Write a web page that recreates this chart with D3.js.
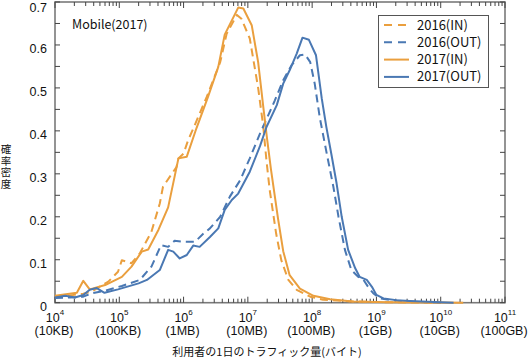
<!DOCTYPE html>
<html><head><meta charset="utf-8">
<script src="https://cdn.jsdelivr.net/npm/d3@7"></script>
<style>
html,body{margin:0;padding:0;background:#fff;}
svg text{font-family:"Noto Sans CJK JP","Noto Sans",sans-serif;fill:#111;}
svg text.num{font-family:"Liberation Sans","Noto Sans",sans-serif;}
svg text.vert{writing-mode:vertical-rl;text-orientation:upright;letter-spacing:1px;}
</style></head>
<body>
<svg id="c" width="530" height="360"></svg>
<script>
// exponents (log10 of bytes) and density values
const in2016X = [4.0,4.23,4.44,4.57,4.83,4.98,5.04,5.19,5.32,5.50,5.63,5.68,5.89,5.92,6.0,6.07,6.15,6.36,6.57,6.67,6.83,6.90,7.03,7.16,7.24,7.29,7.34,7.44,7.52,7.63,7.76,7.97,8.17,8.6,9.2,10.0];
const in2016Y = [0.014,0.017,0.021,0.026,0.049,0.072,0.099,0.092,0.115,0.165,0.231,0.270,0.316,0.336,0.347,0.378,0.405,0.479,0.560,0.626,0.670,0.661,0.615,0.500,0.41,0.33,0.262,0.161,0.099,0.053,0.030,0.014,0.007,0.003,0.001,0];

const out2016X = [4.0,4.23,4.44,4.57,4.78,5.04,5.32,5.50,5.65,5.76,5.86,5.97,6.18,6.31,6.41,6.57,6.72,6.88,7.03,7.19,7.34,7.42,7.55,7.68,7.81,7.89,7.97,8.04,8.12,8.23,8.33,8.41,8.51,8.61,8.72,8.80,8.87,8.95,9.05,9.26,9.6,10.0];
const out2016Y = [0.011,0.012,0.014,0.022,0.028,0.039,0.053,0.084,0.134,0.130,0.144,0.142,0.142,0.161,0.173,0.200,0.247,0.285,0.336,0.394,0.444,0.471,0.518,0.553,0.576,0.578,0.560,0.510,0.430,0.345,0.270,0.200,0.123,0.076,0.060,0.053,0.037,0.022,0.010,0.005,0.002,0];

const in2017X = [4.0,4.34,4.44,4.54,4.78,5.04,5.19,5.35,5.45,5.61,5.76,5.92,6.05,6.20,6.38,6.54,6.64,6.85,6.93,7.06,7.16,7.24,7.30,7.36,7.47,7.55,7.65,7.81,8.02,8.28,8.63,9.2,10.35];
const in2017Y = [0.016,0.023,0.051,0.031,0.041,0.060,0.084,0.119,0.124,0.170,0.222,0.336,0.340,0.406,0.479,0.549,0.624,0.687,0.685,0.646,0.560,0.456,0.38,0.31,0.195,0.12,0.064,0.033,0.016,0.008,0.003,0.001,0];

const out2017X = [4.0,4.16,4.31,4.44,4.54,4.65,4.77,4.98,5.30,5.43,5.63,5.76,5.84,5.94,6.05,6.15,6.25,6.41,6.54,6.64,6.75,6.85,7.03,7.19,7.29,7.45,7.55,7.65,7.76,7.85,7.95,8.06,8.15,8.22,8.30,8.38,8.46,8.56,8.67,8.74,8.85,8.93,9.00,9.11,9.31,9.52,9.8,10.2];
const out2017Y = [0.012,0.016,0.012,0.018,0.030,0.034,0.023,0.031,0.045,0.053,0.076,0.123,0.119,0.103,0.111,0.133,0.130,0.153,0.173,0.216,0.239,0.254,0.305,0.365,0.409,0.46,0.51,0.541,0.58,0.617,0.612,0.576,0.475,0.41,0.345,0.278,0.2,0.123,0.08,0.06,0.053,0.037,0.018,0.010,0.006,0.004,0.002,0];

const seriesNames = ["2016(IN)","2016(OUT)","2017(IN)","2017(OUT)"];
const xExponents = [4,5,6,7,8,9,10,11];
const xUnitLabels = ["(10KB)","(100KB)","(1MB)","(10MB)","(100MB)","(1GB)","(10GB)","(100GB)"];
const yTickLabels = [0,0.1,0.2,0.3,0.4,0.5,0.6,0.7];
const title = "Mobile(2017)";
const xTitle = "利用者の1日のトラフィック量(バイト)";
const yTitle = "確率密度";

const ORANGE = "#EA9F3E", BLUE = "#4A78B3", AXIS = "#7a7a7a";
const L=55, R=505, T=2, B=302.7;
const svg = d3.select("#c");
const x = d3.scaleLog().domain([1e4,1e11]).range([L,R]);
const y = d3.scaleLinear().domain([0,0.7]).range([B,T]);

// frame
svg.append("rect").attr("x",L).attr("y",T).attr("width",R-L).attr("height",B-T)
  .attr("fill","none").attr("stroke",AXIS).attr("stroke-width",1.6);

// x ticks (major + minor) top and bottom, inward
const g = svg.append("g").attr("stroke","#444").attr("stroke-width",1);
xExponents.forEach((e,i)=>{
  const base = Math.pow(10,e);
  const vx = x(base);
  g.append("line").attr("x1",vx).attr("x2",vx).attr("y1",B).attr("y2",B-6);
  g.append("line").attr("x1",vx).attr("x2",vx).attr("y1",T).attr("y2",T+6);
  if (i < xExponents.length-1) {
    for (let m=2;m<=9;m++){
      const mx = x(base*m);
      g.append("line").attr("x1",mx).attr("x2",mx).attr("y1",B).attr("y2",B-4);
      g.append("line").attr("x1",mx).attr("x2",mx).attr("y1",T).attr("y2",T+4);
    }
  }
});
// y ticks every 0.05 both sides
d3.range(0,0.7001,0.05).forEach(v=>{
  const vy=y(v);
  g.append("line").attr("x1",L).attr("x2",L+5).attr("y1",vy).attr("y2",vy);
  g.append("line").attr("x1",R).attr("x2",R-5).attr("y1",vy).attr("y2",vy);
});

// y tick labels
yTickLabels.forEach(v=>{
  svg.append("text").attr("class","num").attr("x",47).attr("y",Math.max(y(v)+8.5,12)).attr("text-anchor","end")
    .attr("font-size",12.5).text(v===0?"0":d3.format(".1f")(v));
});
// x tick labels: one text element per tick, two lines
xExponents.forEach((e,i)=>{
  const vx = x(Math.pow(10,e));
  const t = svg.append("text").attr("class","num").attr("x",vx).attr("y",321.5).attr("text-anchor","middle").attr("font-size",12.5);
  t.append("tspan").text("10");
  t.append("tspan").attr("dy",-7).attr("font-size",8).text(e);
  t.append("tspan").attr("x",vx-1).attr("dy",20).text(xUnitLabels[i]);
});

// axis titles
svg.append("text").attr("x",267).attr("y",356).attr("text-anchor","middle").attr("font-size",11).text(xTitle);
svg.append("text").attr("class","vert").attr("x",6).attr("y",144).attr("font-size",10.5).text(yTitle);
svg.append("text").attr("x",72).attr("y",29).attr("font-size",12.5).text(title);

// curves
const line = d3.line().x(d=>x(Math.pow(10,d[0]))).y(d=>y(d[1]));
const series = [
  {name:seriesNames[0], xs:in2016X, ys:in2016Y, color:ORANGE, dash:"8,5"},
  {name:seriesNames[1], xs:out2016X, ys:out2016Y, color:BLUE, dash:"8,5"},
  {name:seriesNames[2], xs:in2017X, ys:in2017Y, color:ORANGE, dash:null},
  {name:seriesNames[3], xs:out2017X, ys:out2017Y, color:BLUE, dash:null}
];
series.forEach(s=>{
  svg.append("path").datum(s.xs.map((v,i)=>[v,s.ys[i]]))
    .attr("d",line).attr("fill","none").attr("stroke",s.color).attr("stroke-width",2)
    .attr("stroke-linejoin","round")
    .attr("stroke-dasharray",s.dash);
});

// legend
const lg = svg.append("g");
lg.append("rect").attr("x",378.5).attr("y",15.5).attr("width",110).attr("height",72)
  .attr("fill","#fff").attr("stroke","#555").attr("stroke-width",1);
series.forEach((s,i)=>{
  const ly = 25 + i*17.3;
  lg.append("line").attr("x1",384).attr("x2",409).attr("y1",ly).attr("y2",ly)
    .attr("stroke",s.color).attr("stroke-width",2).attr("stroke-dasharray",s.dash?"8,6":null);
  lg.append("text").attr("x",417).attr("y",ly+4.5).attr("font-size",13).text(s.name);
});
</script>
</body></html>
